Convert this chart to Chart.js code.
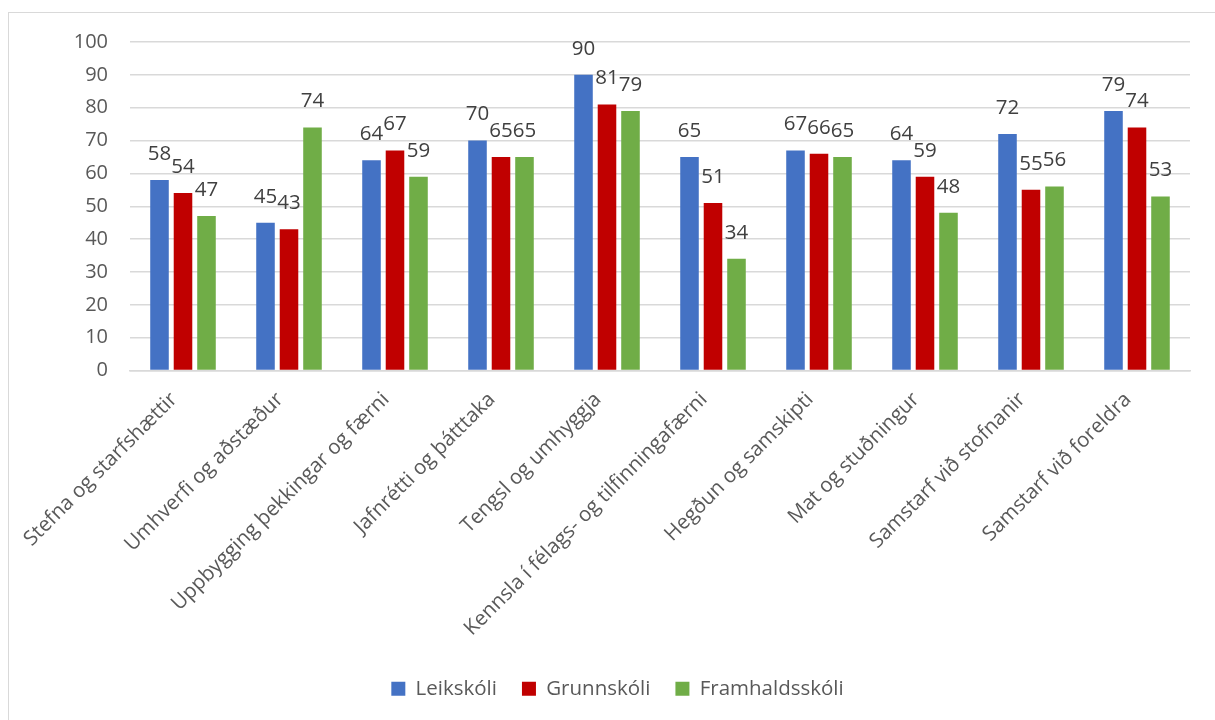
<!DOCTYPE html>
<html>
<head>
<meta charset="utf-8">
<script src="https://cdn.jsdelivr.net/npm/chart.js@4"></script>
<style>
  html, body { margin: 0; padding: 0; background: #fff; overflow: hidden; }
  #frame {
    position: absolute; left: 8px; top: 12px;
    width: 1230px; height: 740px;
    border: 1px solid #d9d9d9;
  }
  #wrap { position: absolute; left: 0; top: 0; width: 1206px; height: 707px; }
</style>
</head>
<body>
<div id="frame"><div id="wrap"><canvas id="chart"></canvas></div></div>
<script>
const categories = [
  "Stefna og starfshættir",
  "Umhverfi og aðstæður",
  "Uppbygging þekkingar og færni",
  "Jafnrétti og þátttaka",
  "Tengsl og umhyggja",
  "Kennsla í félags- og tilfinningafærni",
  "Hegðun og samskipti",
  "Mat og stuðningur",
  "Samstarf við stofnanir",
  "Samstarf við foreldra"
];
const leikskoli = [58, 45, 64, 70, 90, 65, 67, 64, 72, 79];
const grunnskoli = [54, 43, 67, 65, 81, 51, 66, 59, 55, 74];
const framhaldsskoli = [47, 74, 59, 65, 79, 34, 65, 48, 56, 53];
const seriesNames = ["Leikskóli", "Grunnskóli", "Framhaldsskóli"];
const seriesColors = ["#4472C4", "#C00000", "#70AD47"];

const font = "'Open Sans', 'DejaVu Sans', sans-serif";

// value labels above each bar
const barLabels = {
  id: "barLabels",
  afterDatasetsDraw(chart) {
    const ctx = chart.ctx;
    ctx.save();
    ctx.font = "20.5px " + font;
    ctx.fillStyle = "#404040";
    ctx.textAlign = "center";
    ctx.textBaseline = "middle";
    chart.data.datasets.forEach((ds, i) => {
      const meta = chart.getDatasetMeta(i);
      meta.data.forEach((bar, j) => {
        ctx.fillText(ds.data[j], bar.x, bar.y - 26);
      });
    });
    ctx.restore();
  }
};

new Chart(document.getElementById("chart"), {
  type: "bar",
  data: {
    labels: categories,
    datasets: [leikskoli, grunnskoli, framhaldsskoli].map((d, i) => ({
      label: seriesNames[i],
      data: d,
      backgroundColor: seriesColors[i],
      categoryPercentage: 0.665,
      barPercentage: 0.79
    }))
  },
  options: {
    responsive: true,
    maintainAspectRatio: false,
    animation: false,
    layout: { padding: { top: 29, right: 25, bottom: 11, left: 36 } },
    scales: {
      x: {
        grid: { display: false, drawTicks: false },
        border: { display: true, color: "#d9d9d9", width: 1.5 },
        ticks: {
          autoSkip: false,
          maxRotation: 45,
          minRotation: 45,
          padding: 17,
          labelOffset: -9,
          color: "#595959",
          font: { family: font, size: 20.5 }
        },
        afterFit(scale) { scale.height = 283; }
      },
      y: {
        min: 0,
        max: 100,
        ticks: {
          stepSize: 10,
          padding: 0,
          color: "#595959",
          font: { family: font, size: 20 }
        },
        grid: {
          color: "#d9d9d9",
          lineWidth: 1.5,
          drawTicks: true,
          tickLength: 22,
          tickColor: "rgba(0,0,0,0)"
        },
        border: { display: false },
        afterFit(scale) { scale.width = 85; }
      }
    },
    plugins: {
      legend: {
        position: "bottom",
        labels: {
          boxWidth: 14,
          boxHeight: 14,
          padding: 25,
          color: "#595959",
          font: { family: font, size: 20.5 }
        }
      },
      tooltip: { enabled: false }
    }
  },
  plugins: [barLabels]
});
</script>
</body>
</html>
